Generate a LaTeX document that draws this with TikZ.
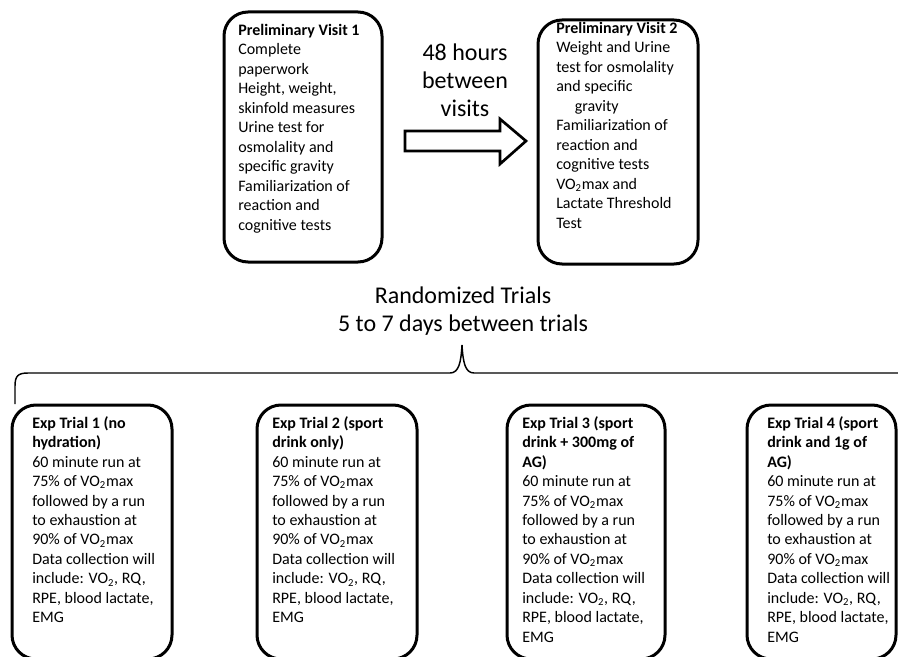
\documentclass[tikz,border=0pt]{standalone}
\usepackage{fontspec}
\setmainfont{Carlito}
\usetikzlibrary{fit}
\begin{document}
\begin{tikzpicture}[x=0.75pt,y=-0.75pt,
  box/.style={draw, line width=2.25pt, rounded corners=18pt, fill=white, inner sep=0pt},
  body/.style={anchor=north west, align=left, inner sep=0pt, font=\fontsize{12}{14.6}\selectfont},
  big/.style={align=center, inner sep=0pt, font=\fontsize{18}{21}\selectfont},
  blockarrow/.style={draw, line width=2pt, fill=white, line join=miter},
  bracket/.style={draw, line width=1.1pt}]
\useasboundingbox (0,0) rectangle (898,656);
\clip (0,0) rectangle (898,656);

% preliminary visits
\node[box, fit={(224,12) (382,262)}] (pv1) {};
\node[box, fit={(538,20) (698,264)}] (pv2) {};
\node[body] (pv1t) at (238,24) {\textbf{Preliminary Visit 1}\\Complete\\paperwork\\Height, weight,\\skinfold measures\\Urine test for\\osmolality and\\specific gravity\\Familiarization of\\reaction and\\cognitive tests};
\node[body] (pv2t) at (556,22) {\textbf{Preliminary Visit 2}\\Weight and Urine\\test for osmolality\\and specific\\\hspace*{14pt}gravity\\Familiarization of\\reaction and\\cognitive tests\\VO\textsubscript{2}max and\\Lactate Threshold\\Test};

% block arrow between visits
\draw[blockarrow] (405,131) -- (500,131) -- (500,119) -- (526,141) -- (500,164) -- (500,151) -- (405,151) -- cycle;
\node[big] (gap) at (465,80) {48 hours\\between\\visits};

% randomized trials label and brace
\node[big] (rt) at (463,311) {Randomized Trials\\5 to 7 days between trials};
\coordinate (bl) at (15,404);
\coordinate (br) at (915,404);
\coordinate (tip) at (462,345);
\draw[bracket] (bl) -- (15,386) .. controls (15,376) and (18,373) .. (28,373) -- (450,373)
  .. controls (459,373) and (461,362) .. (tip)
  .. controls (463,362) and (465,373) .. (474,373) -- (902,373)
  .. controls (912,373) and (915,376) .. (915,386) -- (br);

% experimental trials
\node[box, fit={(12,405) (172,659)}] (t1) {};
\node[box, fit={(257,405) (417,659)}] (t2) {};
\node[box, fit={(507,405) (665,659)}] (t3) {};
\node[box, fit={(747,405) (896,659)}] (t4) {};

\node[body] (t1t) at (32,416) {\textbf{Exp Trial 1 (no}\\\textbf{hydration)}\\60 minute run at\\75\% of VO\textsubscript{2}max\\followed by a run\\to exhaustion at\\90\% of VO\textsubscript{2}max\\Data collection will\\include: VO\textsubscript{2}, RQ,\\RPE, blood lactate,\\EMG};
\node[body] (t2t) at (272,416) {\textbf{Exp Trial 2 (sport}\\\textbf{drink only)}\\60 minute run at\\75\% of VO\textsubscript{2}max\\followed by a run\\to exhaustion at\\90\% of VO\textsubscript{2}max\\Data collection will\\include: VO\textsubscript{2}, RQ,\\RPE, blood lactate,\\EMG};
\node[body] (t3t) at (522,416) {\textbf{Exp Trial 3 (sport}\\\textbf{drink + 300mg of}\\\textbf{AG)}\\60 minute run at\\75\% of VO\textsubscript{2}max\\followed by a run\\to exhaustion at\\90\% of VO\textsubscript{2}max\\Data collection will\\include: VO\textsubscript{2}, RQ,\\RPE, blood lactate,\\EMG};
\node[body] (t4t) at (767,416) {\textbf{Exp Trial 4 (sport}\\\textbf{drink and 1g of}\\\textbf{AG)}\\60 minute run at\\75\% of VO\textsubscript{2}max\\followed by a run\\to exhaustion at\\90\% of VO\textsubscript{2}max\\Data collection will\\include: VO\textsubscript{2}, RQ,\\RPE, blood lactate,\\EMG};
\end{tikzpicture}
\end{document}
